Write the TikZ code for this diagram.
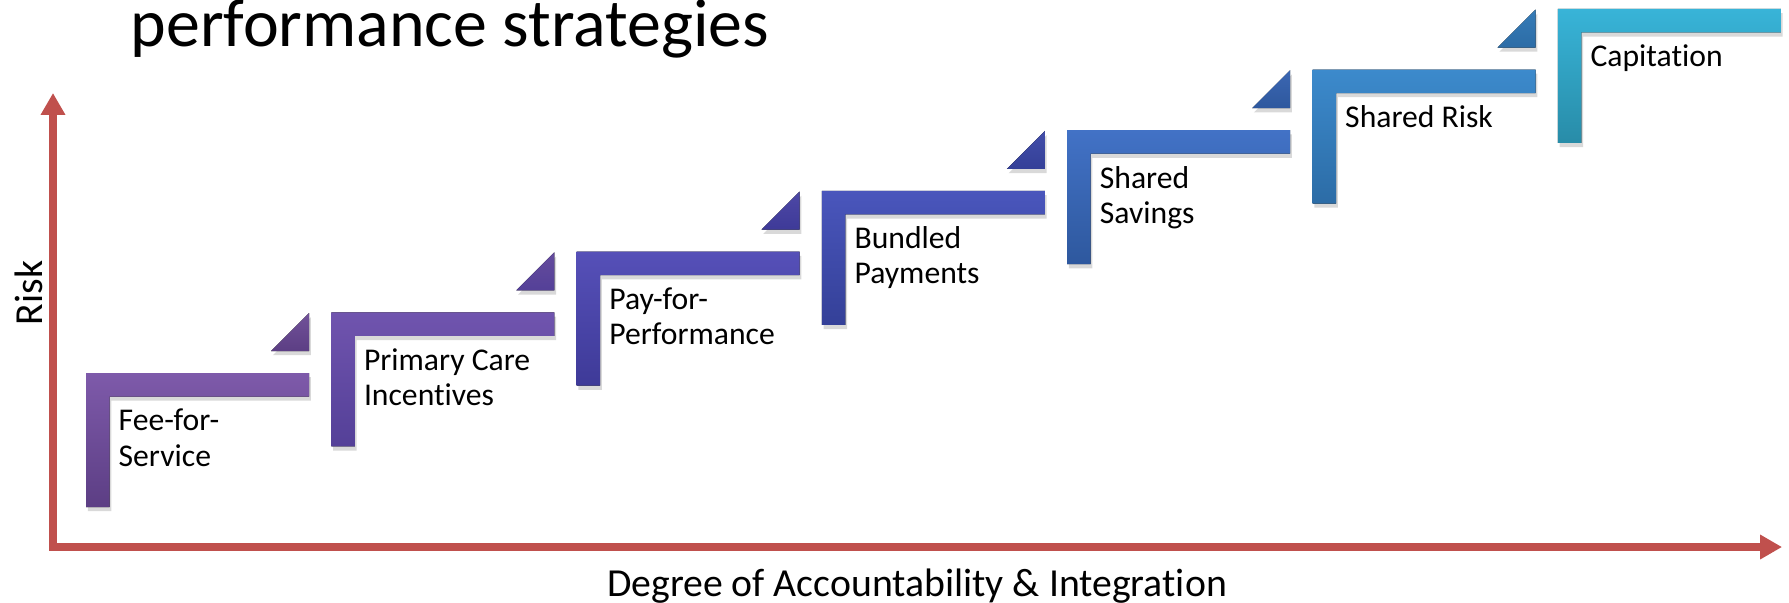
\documentclass[tikz,border=0pt]{standalone}
\usepackage{fontspec}
\setmainfont[Ligatures=NoCommon, RawFeature={-liga;-clig;-calt;-dlig}]{Carlito}
\usepackage{tikz}
\usetikzlibrary{arrows.meta, shadows, positioning}
\definecolor{axisCol}{RGB}{192,80,77}
\definecolor{stepTopA}{RGB}{126,90,170}
\definecolor{stepBotA}{RGB}{92,62,132}
\definecolor{stepTopB}{RGB}{112,84,174}
\definecolor{stepBotB}{RGB}{84,64,152}
\definecolor{stepTopC}{RGB}{86,80,184}
\definecolor{stepBotC}{RGB}{62,58,152}
\definecolor{stepTopD}{RGB}{74,86,188}
\definecolor{stepBotD}{RGB}{52,64,152}
\definecolor{stepTopE}{RGB}{66,114,198}
\definecolor{stepBotE}{RGB}{46,88,158}
\definecolor{stepTopF}{RGB}{60,138,204}
\definecolor{stepBotF}{RGB}{44,108,166}
\definecolor{stepTopG}{RGB}{56,180,216}
\definecolor{stepBotG}{RGB}{40,140,168}
\tikzset{myAxisLine/.style={line width=2.3pt, color=axisCol, line join=miter}}
\tikzset{myStep/.style={draw=none, drop shadow={shadow xshift=0.5pt, shadow yshift=-1.2pt, opacity=0.15, fill=black}}}
\tikzset{myStepText/.style={font=\fontsize{9}{10}\selectfont, align=left, anchor=base west, inner sep=0pt}}
\tikzset{myAxisText/.style={font=\fontsize{11.3}{13}\selectfont, inner sep=0pt}}
\newcommand{\stepDx}{245.3}
\newcommand{\stepDy}{60.7}

\begin{document}
\begin{tikzpicture}[x=0.01cm, y=-0.01cm]
	\useasboundingbox (0,0) rectangle (1789,602);

	\node[font=\fontsize{19.3}{22}\selectfont, anchor=base west, inner sep=0pt](title) at (130,46){performance strategies};

	\coordinate (origin) at (53,547);
	\coordinate (riskTip) at (53,93);
	\coordinate (degTip) at (1782,547);
	\draw[myAxisLine, {Triangle[width=6.6pt, length=6.2pt]}-{Triangle[width=6.6pt, length=6.2pt]}](riskTip)--(origin)--(degTip);
	\node[myAxisText, rotate=90, anchor=base](risk) at (42,293){Risk};
	\node[myAxisText, anchor=base](degree) at (917,596){Degree of Accountability \& Integration};

	\foreach \lbl/\nl/\cTop/\cBot [count=\i from 0] in {{Fee-for-\\Service}/1/stepTopA/stepBotA, {Primary Care\\Incentives}/1/stepTopB/stepBotB, {Pay-for-\\Performance}/1/stepTopC/stepBotC, {Bundled\\Payments}/1/stepTopD/stepBotD, {Shared\\Savings}/1/stepTopE/stepBotE, {Shared Risk}/0/stepTopF/stepBotF, {Capitation}/0/stepTopG/stepBotG}{
		\pgfmathsetmacro{\sx}{86+\stepDx*\i}
		\pgfmathsetmacro{\sy}{373-\stepDy*\i}
		\coordinate (corner\i) at (\sx,\sy);
		\fill[myStep, top color=\cTop, bottom color=\cBot](corner\i)--++(223,0)--++(0,23.5)--++(-199.5,0)--++(0,110.5)--++(-23.5,0)--cycle;
		\ifnum\i<6
			\fill[myStep, top color=\cTop!90!black, bottom color=\cBot](\sx+185,\sy-22)--++(38,0)--++(0,-38)--cycle;
		\fi
		\node[myStepText](lbl\i) at (\sx+32,\sy+58+35*\nl){\lbl};
	}
\end{tikzpicture}
\end{document}
